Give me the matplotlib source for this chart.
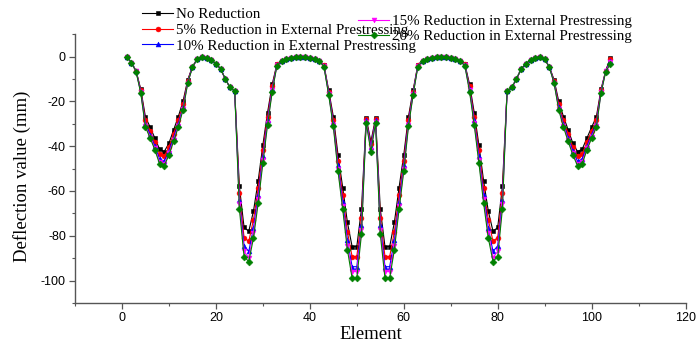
import matplotlib
matplotlib.use("Agg")
import matplotlib.pyplot as plt
from matplotlib.ticker import MultipleLocator

plt.rcParams["axes.unicode_minus"] = False

elements = list(range(1, 105))

no_reduction = [
    0, -2.7, -6.3, -14.6, -27.0, -31.5, -36.4, -41.3, -42.4, -38.7,
    -32.7, -26.8, -20.0, -10.4, -4.5, -1.2, 0, -0.5, -1.5, -3.2,
    -5.5, -10.0, -13.8, -15.3, -58.0, -76.3, -78.0, -69.0, -55.5, -39.5,
    -25.0, -12.3, -3.3, -1.8, -1.0, -0.5, -0.1, 0, -0.1, -0.5,
    -1.0, -1.8, -3.7, -14.9, -26.8, -43.9, -58.5, -74.0, -84.8, -84.8,
    -68.0, -27.5, -38.0,
    -27.5, -68.0, -84.8, -84.8, -74.0, -58.5, -43.9, -26.8, -14.9, -3.7,
    -1.8, -1.0, -0.5, -0.1, 0, -0.1, -0.5, -1.0, -1.8, -3.3,
    -12.3, -25.0, -39.5, -55.5, -69.0, -78.0, -76.3, -58.0, -15.3, -13.8,
    -10.0, -5.5, -3.2, -1.5, -0.5, 0, -1.2, -4.5, -10.4, -20.0,
    -26.8, -32.7, -38.7, -42.4, -41.3, -36.4, -31.5, -27.0, -14.6, -6.3,
    -0.5,
]

reduction_5 = [
    0, -2.7, -6.4, -15.1, -28.5, -33.1, -38.2, -43.5, -44.6, -40.4,
    -34.4, -28.4, -21.3, -10.9, -4.6, -1.2, 0, -0.5, -1.5, -3.2,
    -5.5, -10.0, -13.8, -15.3, -61.0, -80.8, -82.5, -72.8, -58.8, -41.8,
    -26.8, -13.3, -3.5, -1.8, -1.0, -0.5, -0.1, 0, -0.1, -0.5,
    -1.0, -1.8, -3.9, -15.6, -28.3, -46.4, -61.8, -78.2, -89.3, -89.3,
    -71.9, -28.0, -39.2,
    -28.0, -71.9, -89.3, -89.3, -78.2, -61.8, -46.4, -28.3, -15.6, -3.9,
    -1.8, -1.0, -0.5, -0.1, 0, -0.1, -0.5, -1.0, -1.8, -3.5,
    -13.3, -26.8, -41.8, -58.8, -72.8, -82.5, -80.8, -61.0, -15.3, -13.8,
    -10.0, -5.5, -3.2, -1.5, -0.5, 0, -1.2, -4.6, -10.9, -21.3,
    -28.4, -34.4, -40.4, -44.6, -43.5, -38.2, -33.1, -28.5, -15.1, -6.4,
    -1.2,
]

reduction_10 = [
    0, -2.7, -6.5, -15.6, -30.0, -34.8, -40.0, -45.7, -46.8, -42.2,
    -36.2, -30.0, -22.6, -11.4, -4.7, -1.2, 0, -0.5, -1.5, -3.2,
    -5.5, -10.0, -13.8, -15.3, -64.0, -84.5, -87.0, -76.5, -61.8, -44.5,
    -28.5, -14.3, -3.7, -1.9, -1.0, -0.5, -0.1, 0, -0.1, -0.5,
    -1.0, -1.9, -4.1, -16.2, -29.6, -48.6, -64.7, -81.9, -93.8, -93.8,
    -75.3, -28.5, -40.4,
    -28.5, -75.3, -93.8, -93.8, -81.9, -64.7, -48.6, -29.6, -16.2, -4.1,
    -1.9, -1.0, -0.5, -0.1, 0, -0.1, -0.5, -1.0, -1.9, -3.7,
    -14.3, -28.5, -44.5, -61.8, -76.5, -87.0, -84.5, -64.0, -15.3, -13.8,
    -10.0, -5.5, -3.2, -1.5, -0.5, 0, -1.2, -4.7, -11.4, -22.6,
    -30.0, -36.2, -42.2, -46.8, -45.7, -40.0, -34.8, -30.0, -15.6, -6.5,
    -1.9,
]

reduction_15 = [
    0, -2.7, -6.6, -16.0, -31.0, -35.8, -41.0, -47.0, -48.0, -43.2,
    -37.2, -30.9, -23.3, -11.7, -4.8, -1.2, 0, -0.5, -1.5, -3.2,
    -5.5, -10.0, -13.8, -15.3, -66.0, -87.0, -89.7, -78.8, -63.8, -46.3,
    -29.6, -15.0, -3.9, -1.9, -1.0, -0.5, -0.1, 0, -0.1, -0.5,
    -1.0, -1.9, -4.3, -16.7, -30.5, -50.2, -66.8, -84.5, -96.0, -96.0,
    -77.6, -29.0, -41.5,
    -29.0, -77.6, -96.0, -96.0, -84.5, -66.8, -50.2, -30.5, -16.7, -4.3,
    -1.9, -1.0, -0.5, -0.1, 0, -0.1, -0.5, -1.0, -1.9, -3.9,
    -15.0, -29.6, -46.3, -63.8, -78.8, -89.7, -87.0, -66.0, -15.3, -13.8,
    -10.0, -5.5, -3.2, -1.5, -0.5, 0, -1.2, -4.8, -11.7, -23.3,
    -30.9, -37.2, -43.2, -48.0, -47.0, -41.0, -35.8, -31.0, -16.0, -6.6,
    -2.6,
]

reduction_20 = [
    0, -2.7, -6.7, -16.3, -31.5, -36.4, -41.6, -47.9, -48.8, -43.9,
    -37.9, -31.5, -23.8, -11.9, -4.8, -1.2, 0, -0.5, -1.5, -3.2,
    -5.5, -10.0, -13.8, -15.3, -68.0, -89.3, -91.5, -81.0, -65.5, -47.6,
    -30.5, -15.6, -4.0, -2.0, -1.0, -0.5, -0.1, 0, -0.1, -0.5,
    -1.0, -2.0, -4.5, -17.0, -31.2, -51.2, -68.2, -86.2, -98.9, -98.9,
    -79.3, -29.5, -42.5,
    -29.5, -79.3, -98.9, -98.9, -86.2, -68.2, -51.2, -31.2, -17.0, -4.5,
    -2.0, -1.0, -0.5, -0.1, 0, -0.1, -0.5, -1.0, -2.0, -4.0,
    -15.6, -30.5, -47.6, -65.5, -81.0, -91.5, -89.3, -68.0, -15.3, -13.8,
    -10.0, -5.5, -3.2, -1.5, -0.5, 0, -1.2, -4.8, -11.9, -23.8,
    -31.5, -37.9, -43.9, -48.8, -47.9, -41.6, -36.4, -31.5, -16.3, -6.7,
    -3.3,
]

labels = [
    "No Reduction",
    "5% Reduction in External Prestressing",
    "10% Reduction in External Prestressing",
    "15% Reduction in External Prestressing",
    "20% Reduction in External Prestressing",
]
colors = ["#000000", "#ff0000", "#0000ff", "#ff00ff", "#008000"]
markers = ["s", "o", "^", "v", "D"]
series = [no_reduction, reduction_5, reduction_10, reduction_15, reduction_20]

serif = ["Liberation Serif", "DejaVu Serif"]
sans = ["Liberation Sans", "DejaVu Sans"]

fig = plt.figure(figsize=(6.97, 3.46), dpi=100)
ax = fig.add_axes([0.1076, 0.1243, 0.876, 0.777])

handles = []
for vals, c, m, lab in zip(series, colors, markers, labels):
    h, = ax.plot(elements, vals, color=c, marker=m, markersize=3.5,
                 markeredgewidth=0.4, linewidth=0.8, label=lab)
    handles.append(h)

ax.set_xlim(-10, 120)
ax.set_ylim(-110, 10)
ax.xaxis.set_major_locator(MultipleLocator(20))
ax.xaxis.set_minor_locator(MultipleLocator(10))
ax.set_yticks([-100, -80, -60, -40, -20, 0])
ax.yaxis.set_minor_locator(MultipleLocator(10))

for side in ["top", "right"]:
    ax.spines[side].set_visible(False)
for side in ["left", "bottom"]:
    ax.spines[side].set_color("#555555")
    ax.spines[side].set_linewidth(1.0)

ax.tick_params(which="major", direction="out", length=4, width=0.9,
               color="#555555", labelsize=9, pad=2.5)
ax.tick_params(which="minor", direction="out", length=2, width=0.8,
               color="#555555")
for t in ax.get_xticklabels() + ax.get_yticklabels():
    t.set_family(sans)

ax.set_xlabel("Element", family=serif, fontsize=13.5)
ax.set_ylabel("Deflection value (mm)", family=serif, fontsize=13.5)
ax.xaxis.set_label_coords(0.484, -0.085)
ax.yaxis.set_label_coords(-0.072, 0.47)

leg_font = {"family": serif, "size": 10.8}
leg1 = fig.legend(handles=handles[:3], loc="upper left",
                  bbox_to_anchor=(0.195, 0.995), frameon=False,
                  prop=leg_font, handlelength=2.1, handletextpad=0.2,
                  labelspacing=0.15, borderaxespad=0, numpoints=1)
leg2 = fig.legend(handles=handles[3:], loc="upper left",
                  bbox_to_anchor=(0.505, 0.975), frameon=False,
                  prop=leg_font, handlelength=2.1, handletextpad=0.2,
                  labelspacing=0.08, borderaxespad=0, numpoints=1)

fig.savefig("out.png", dpi=100)
